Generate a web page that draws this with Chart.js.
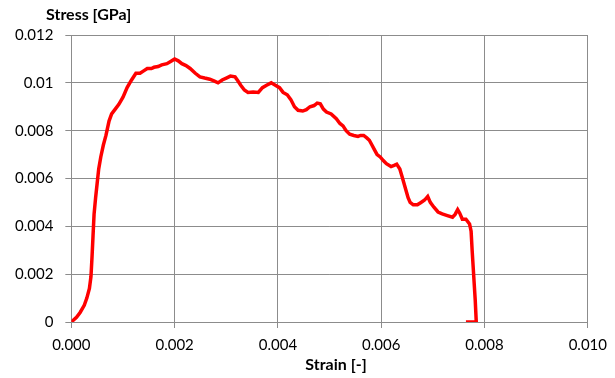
<!DOCTYPE html>
<html>
<head>
<meta charset="utf-8">
<script src="https://cdn.jsdelivr.net/npm/chart.js@4/dist/chart.umd.min.js"></script>
<style>
  html, body { margin: 0; padding: 0; background: #fff; }
  #wrap { width: 615px; height: 378px; }
</style>
</head>
<body>
<div id="wrap"><canvas id="chart"></canvas></div>
<script>
// values
const strain = [
  0, 0.0001, 0.00017, 0.00025, 0.0003, 0.00035, 0.00038, 0.0004, 0.00042, 0.00044,
  0.00047, 0.0005, 0.00053, 0.00057, 0.00062, 0.00067, 0.00073, 0.00078, 0.00085, 0.00092,
  0.001, 0.00108, 0.00116, 0.00125, 0.00133, 0.0014, 0.00147, 0.00155, 0.0016, 0.00168,
  0.00175, 0.00185, 0.00193, 0.002, 0.00207, 0.00214, 0.00222, 0.0023, 0.0024, 0.00249,
  0.00258, 0.00268, 0.00276, 0.00284, 0.00292, 0.003, 0.00308, 0.00317, 0.00322, 0.00328,
  0.00335, 0.00342, 0.00352, 0.00362, 0.0037, 0.00378, 0.00387, 0.00395, 0.00403, 0.0041,
  0.00418, 0.00425, 0.00432, 0.00439, 0.00448, 0.00455, 0.00462, 0.0047, 0.00476, 0.00482,
  0.00488, 0.00494, 0.00503, 0.00513, 0.0052, 0.00526, 0.00532, 0.00539, 0.00547, 0.00555,
  0.0056, 0.00566, 0.00572, 0.00577, 0.00582, 0.00587, 0.00592, 0.00598, 0.00604, 0.0061,
  0.00619, 0.00625, 0.0063, 0.00636, 0.0064, 0.00644, 0.00648, 0.00652, 0.00656, 0.00662,
  0.0067, 0.00677, 0.00684, 0.0069, 0.00695, 0.00702, 0.0071, 0.00718, 0.00728, 0.00738,
  0.00743, 0.00748, 0.00752, 0.00757, 0.00764, 0.00771, 0.00774, 0.00776, 0.00778, 0.0078,
  0.00782, 0.00784, 0.00764
];
const stress = [
  0, 0.0002, 0.0004, 0.0007, 0.001, 0.0014, 0.0019, 0.0027, 0.0036, 0.0045,
  0.0052, 0.0058, 0.0064, 0.0069, 0.0074, 0.0078, 0.0084, 0.0087, 0.0089, 0.0091,
  0.0094, 0.0098, 0.0101, 0.0104, 0.0104, 0.0105, 0.0106, 0.0106, 0.01065, 0.01068,
  0.01075, 0.0108, 0.0109, 0.011, 0.01092, 0.0108, 0.01072, 0.0106, 0.0104, 0.01025,
  0.0102, 0.01015, 0.01008, 0.01, 0.01012, 0.0102, 0.01028, 0.01025, 0.0101, 0.0099,
  0.0097, 0.0096, 0.00962, 0.0096, 0.0098, 0.0099, 0.01, 0.0099, 0.0098, 0.0096,
  0.0095, 0.0093, 0.009, 0.00885, 0.00882, 0.00888, 0.009, 0.00905, 0.00915, 0.00912,
  0.0089, 0.00878, 0.0087, 0.0085, 0.0083, 0.0082, 0.008, 0.00785, 0.0078, 0.00776,
  0.0078, 0.0078, 0.0077, 0.0076, 0.0074, 0.0072, 0.007, 0.0069, 0.00675, 0.00662,
  0.0065, 0.00655, 0.0066, 0.0064, 0.0061, 0.0058, 0.0055, 0.0052, 0.005, 0.0049,
  0.0049, 0.005, 0.0051, 0.00525, 0.005, 0.0048, 0.0046, 0.00452, 0.00445, 0.00438,
  0.0045, 0.0047, 0.00455, 0.0043, 0.0043, 0.0041, 0.0038, 0.003, 0.0023, 0.0016,
  0.0009, 0, 0
];
const xTicks = [0, 0.002, 0.004, 0.006, 0.008, 0.01];
const yTicks = [0, 0.002, 0.004, 0.006, 0.008, 0.01, 0.012];

const gridColor = "#8c8c8c";
const font = "Lato, 'Open Sans', sans-serif";

// both axis titles sit horizontally, like in Excel
const axisTitles = {
  id: "axisTitles",
  afterDraw(chart) {
    const ctx = chart.ctx;
    ctx.save();
    ctx.font = "bold 16px " + font;
    ctx.fillStyle = "#000";
    ctx.textBaseline = "middle";
    ctx.textAlign = "left";
    ctx.fillText("Stress [GPa]", 46, 15);
    ctx.textAlign = "center";
    ctx.fillText("Strain [-]", 336, 365);
    ctx.restore();
  },
};

const points = strain.map((x, i) => ({ x: x, y: stress[i] }));

new Chart(document.getElementById("chart"), {
  type: "scatter",
  data: {
    datasets: [
      {
        data: points,
        showLine: true,
        borderColor: "#ff0000",
        backgroundColor: "#ff0000",
        borderWidth: 3.5,
        pointRadius: 0,
        tension: 0,
      },
    ],
  },
  options: {
    responsive: true,
    maintainAspectRatio: false,
    animation: false,
    layout: { padding: { left: 3, right: 16, top: 35, bottom: 16 } },
    plugins: {
      legend: { display: false },
      tooltip: { enabled: false },
    },
    scales: {
      x: {
        type: "linear",
        min: 0,
        max: 0.01,
        afterBuildTicks: (axis) => {
          axis.ticks = xTicks.map((v) => ({ value: v }));
        },
        ticks: {
          color: "#000",
          font: { family: font, size: 15 },
          padding: 8,
          maxRotation: 0,
          callback: (v) => Number(v).toFixed(3),
        },
        grid: { color: gridColor, lineWidth: 1, tickLength: 6 },
        border: { color: gridColor, width: 1 },
      },
      y: {
        min: 0,
        max: 0.012,
        afterBuildTicks: (axis) => {
          axis.ticks = yTicks.map((v) => ({ value: v }));
        },
        ticks: {
          color: "#000",
          font: { family: font, size: 15 },
          padding: 12,
          callback: (v) => String(Number(Number(v).toFixed(3))),
        },
        grid: { color: gridColor, lineWidth: 1, tickLength: 6 },
        border: { color: gridColor, width: 1 },
      },
    },
  },
  plugins: [axisTitles],
});
</script>
</body>
</html>
